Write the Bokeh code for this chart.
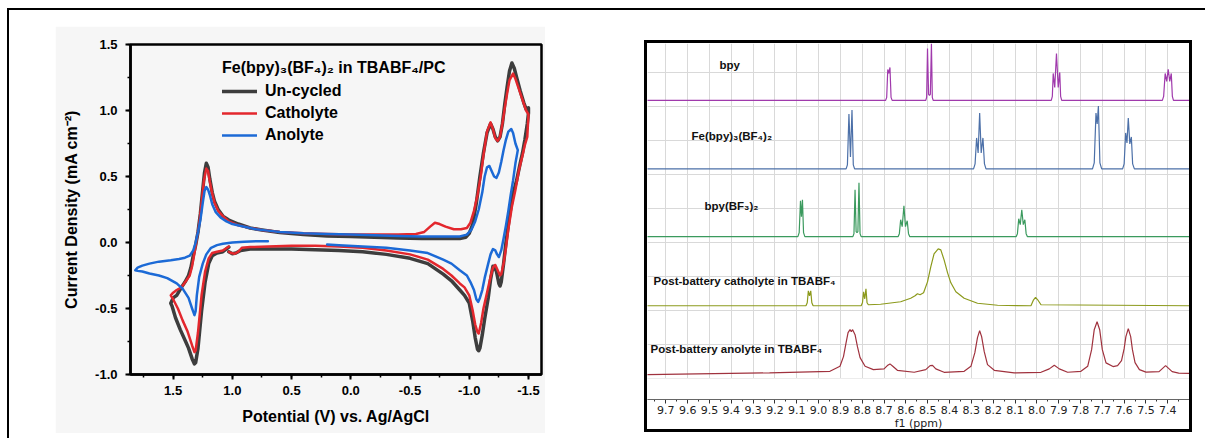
from bokeh.plotting import figure
from bokeh.models import (Range1d, SingleIntervalTicker, FixedTicker, NumeralTickFormatter,
                          Legend, LegendItem, BoxAnnotation, Div)
from bokeh.core.properties import value
from bokeh.embed import file_html
from bokeh.resources import INLINE

# ---------------- CV data (E in V vs Ag/AgCl, j in mA cm^-2) ----------------
series_names = ["Un-cycled", "Catholyte", "Anolyte"]

uncycled_E = [1.03, 1.08, 1.13, 1.17, 1.20, 1.23, 1.26, 1.29, 1.31, 1.32, 1.34, 1.37, 1.39, 1.44, 1.48, 1.51, 1.52,
              1.50, 1.47, 1.43, 1.40, 1.37, 1.35, 1.33, 1.31, 1.29, 1.27, 1.25, 1.235, 1.22, 1.205, 1.19, 1.17, 1.15,
              1.12, 1.08, 1.03, 0.95, 0.85, 0.75, 0.6, 0.4, 0.2, 0.0, -0.2, -0.4, -0.6, -0.8, -0.92, -0.97, -1.0,
              -1.03, -1.06, -1.09, -1.12, -1.15, -1.18, -1.20, -1.22, -1.24, -1.26, -1.28, -1.30, -1.32, -1.34, -1.36,
              -1.38, -1.40, -1.43, -1.46, -1.48, -1.50,
              -1.50, -1.49, -1.47, -1.45, -1.43, -1.40, -1.37, -1.34, -1.31, -1.29, -1.27, -1.26, -1.25, -1.23, -1.21,
              -1.20, -1.18, -1.16, -1.13, -1.11, -1.09, -1.08, -1.07, -1.05, -1.03, -1.00, -0.96, -0.92, -0.85, -0.78,
              -0.65, -0.5, -0.3, -0.1, 0.1, 0.3, 0.5, 0.7, 0.85, 0.93, 0.97, 1.0, 1.03]
uncycled_j = [-0.035, -0.07, -0.08, -0.10, -0.16, -0.30, -0.52, -0.80, -0.91, -0.92, -0.88, -0.80, -0.76, -0.66, -0.57,
              -0.48, -0.46,
              -0.42, -0.40, -0.34, -0.30, -0.25, -0.19, -0.10, -0.02, 0.08, 0.22, 0.40, 0.53, 0.60, 0.57, 0.48, 0.38,
              0.31, 0.25, 0.20, 0.17, 0.14, 0.11, 0.095, 0.075, 0.06, 0.05, 0.045, 0.04, 0.035, 0.03, 0.03, 0.03,
              0.04, 0.07, 0.14, 0.30, 0.50, 0.68, 0.83, 0.90, 0.86, 0.80, 0.77, 0.80, 0.90, 1.05, 1.18, 1.30, 1.36,
              1.32, 1.25, 1.15, 1.06, 1.01, 1.02,
              0.98, 0.90, 0.78, 0.68, 0.60, 0.47, 0.37, 0.20, 0.0, -0.16, -0.30, -0.33, -0.31, -0.22, -0.18, -0.18,
              -0.28, -0.42, -0.58, -0.70, -0.80, -0.82, -0.81, -0.72, -0.60, -0.46, -0.40, -0.36, -0.29, -0.24, -0.16,
              -0.12, -0.09, -0.07, -0.06, -0.055, -0.05, -0.05, -0.05, -0.06, -0.08, -0.085, -0.07]

catholyte_E = [1.03, 1.08, 1.13, 1.17, 1.20, 1.23, 1.26, 1.29, 1.31, 1.32, 1.34, 1.38, 1.42, 1.46, 1.50, 1.52,
               1.50, 1.47, 1.43, 1.39, 1.36, 1.34, 1.32, 1.30, 1.28, 1.26, 1.24, 1.22, 1.205, 1.19, 1.17, 1.15, 1.12,
               1.08, 1.03, 0.95, 0.85, 0.75, 0.6, 0.4, 0.2, 0.0, -0.2, -0.4, -0.55, -0.62, -0.67, -0.71, -0.75, -0.80,
               -0.87, -0.93, -0.98, -1.01, -1.04, -1.07, -1.10, -1.12, -1.15, -1.18, -1.20, -1.22, -1.24, -1.26, -1.28,
               -1.30, -1.32, -1.34, -1.37, -1.39, -1.42, -1.45, -1.48, -1.50,
               -1.49, -1.47, -1.45, -1.42, -1.39, -1.36, -1.33, -1.31, -1.29, -1.27, -1.26, -1.24, -1.22, -1.20,
               -1.18, -1.15, -1.12, -1.10, -1.08, -1.07, -1.05, -1.03, -1.00, -0.96, -0.92, -0.85, -0.78, -0.65,
               -0.5, -0.3, -0.1, 0.1, 0.3, 0.5, 0.7, 0.85, 0.92, 0.95, 0.98, 1.01, 1.03]
catholyte_j = [-0.03, -0.06, -0.07, -0.08, -0.12, -0.22, -0.40, -0.68, -0.82, -0.83, -0.78, -0.67, -0.59, -0.50,
               -0.43, -0.40,
               -0.38, -0.36, -0.34, -0.29, -0.25, -0.18, -0.08, 0.03, 0.14, 0.30, 0.47, 0.56, 0.54, 0.46, 0.37, 0.30,
               0.24, 0.20, 0.16, 0.13, 0.11, 0.095, 0.08, 0.07, 0.065, 0.06, 0.06, 0.06, 0.065, 0.08, 0.12, 0.15,
               0.14, 0.12, 0.10, 0.10, 0.11, 0.15, 0.24, 0.36, 0.52, 0.66, 0.84, 0.91, 0.86, 0.79, 0.77, 0.80, 0.90,
               1.02, 1.13, 1.23, 1.28, 1.24, 1.16, 1.08, 1.00, 0.97,
               0.80, 0.74, 0.66, 0.55, 0.40, 0.27, 0.10, -0.04, -0.16, -0.24, -0.25, -0.21, -0.17, -0.19, -0.26,
               -0.38, -0.50, -0.61, -0.69, -0.68, -0.62, -0.52, -0.40, -0.34, -0.31, -0.25, -0.20, -0.13, -0.09,
               -0.06, -0.04, -0.03, -0.025, -0.025, -0.03, -0.035, -0.04, -0.07, -0.085, -0.08, -0.07]

anolyte_E = [0.70, 0.80, 0.90, 1.00, 1.08, 1.13, 1.18, 1.22, 1.25, 1.28, 1.30, 1.31, 1.32, 1.34, 1.37, 1.42, 1.47,
             1.55, 1.62, 1.70, 1.76, 1.80, 1.82,
             1.80, 1.76, 1.70, 1.62, 1.52, 1.45, 1.40, 1.36, 1.33, 1.31, 1.29, 1.27, 1.25, 1.235, 1.22, 1.205, 1.19,
             1.17, 1.14, 1.10, 1.05, 1.0, 0.9, 0.8, 0.7, 0.6, 0.4, 0.2, 0.0, -0.2, -0.4, -0.6, -0.8, -0.92, -0.98,
             -1.02, -1.05, -1.08, -1.11, -1.13, -1.15, -1.17, -1.19, -1.21, -1.23, -1.25, -1.27, -1.29, -1.31, -1.33,
             -1.355, -1.37, -1.39, -1.41,
             -1.39, -1.37, -1.35, -1.33, -1.31, -1.29, -1.27, -1.25, -1.235, -1.22, -1.20, -1.18, -1.16, -1.13,
             -1.11, -1.09, -1.075, -1.06, -1.04, -1.01, -0.98, -0.92, -0.85, -0.78, -0.65, -0.5, -0.3, -0.1, 0.1,
             0.2]
anolyte_j = [0.01, 0.01, 0.005, 0.0, -0.01, -0.02, -0.04, -0.09, -0.16, -0.26, -0.40, -0.52, -0.55, -0.50, -0.42,
             -0.35, -0.31, -0.27, -0.25, -0.235, -0.22, -0.215, -0.21,
             -0.19, -0.175, -0.16, -0.145, -0.135, -0.125, -0.115, -0.10, -0.06, 0.0, 0.08, 0.17, 0.30, 0.39, 0.42,
             0.40, 0.36, 0.29, 0.23, 0.19, 0.16, 0.14, 0.12, 0.10, 0.09, 0.08, 0.07, 0.065, 0.06, 0.055, 0.05,
             0.045, 0.045, 0.045, 0.06, 0.10, 0.16, 0.25, 0.38, 0.50, 0.57, 0.58, 0.54, 0.50, 0.49, 0.53, 0.61, 0.70,
             0.78, 0.84, 0.86, 0.83, 0.75, 0.70,
             0.60, 0.47, 0.36, 0.24, 0.13, 0.03, -0.06, -0.11, -0.09, -0.06, -0.05, -0.09, -0.16, -0.27, -0.36,
             -0.42, -0.45, -0.43, -0.36, -0.30, -0.25, -0.21, -0.16, -0.13, -0.08, -0.06, -0.04, -0.03, -0.02,
             -0.015]

# ---------------- 1H NMR data (ppm, intensity in a.u.) ----------------
nmr_names = ["bpy", "Fe(bpy)₃(BF₄)₂", "bpy(BF₃)₂",
             "Post-battery catholyte in TBABF₄", "Post-battery anolyte in TBABF₄"]

bpy_ppm = [9.80, 8.693, 8.688, 8.683, 8.678, 8.673, 8.668, 8.663,
           8.509, 8.505, 8.501, 8.496, 8.492, 8.488, 8.483, 8.479, 8.475,
           7.934, 7.929, 7.925, 7.918, 7.910, 7.902, 7.895, 7.891, 7.886,
           7.425, 7.419, 7.412, 7.405, 7.398, 7.391, 7.384, 7.379, 7.374, 7.28]
bpy_int = [0, 0, 3, 31, 27, 33, 3, 0,
           0, 3, 52, 6, 5, 6, 57, 3, 0,
           0, 4, 27, 13, 47, 13, 28, 4, 0,
           0, 4, 27, 19, 31, 19, 27, 4, 0, 0]

fe_ppm = [9.80, 8.874, 8.868, 8.861, 8.854, 8.847, 8.841, 8.835,
          8.290, 8.283, 8.276, 8.269, 8.262, 8.255, 8.247, 8.240, 8.233,
          7.745, 7.737, 7.729, 7.7235, 7.718, 7.711, 7.703,
          7.607, 7.600, 7.593, 7.587, 7.581, 7.574, 7.567, 7.561, 7.553, 7.28]
fe_int = [0, 0, 4, 55, 12, 59, 4, 0,
          0, 5, 31, 16, 56, 16, 31, 5, 0,
          0, 6, 56, 45, 63, 6, 0,
          0, 5, 36, 26, 51, 25, 32, 5, 0, 0]

bf3_ppm = [9.80, 9.095, 9.089, 9.083, 9.0785, 9.074, 9.069, 9.063,
           8.843, 8.838, 8.833, 8.828, 8.824, 8.820, 8.815, 8.810, 8.805,
           8.636, 8.630, 8.624, 8.617, 8.609, 8.602, 8.594, 8.588, 8.582,
           8.095, 8.089, 8.083, 8.076, 8.069, 8.062, 8.055, 8.049, 8.043, 7.28]
bf3_int = [0, 0, 4, 36, 20, 37, 4, 0,
           0, 3, 47, 5, 4, 5, 54, 3, 0,
           0, 3, 17, 10, 31, 10, 16, 3, 0,
           0, 3, 18, 12, 27, 12, 17, 3, 0, 0]

cath_ppm = [9.80, 9.058, 9.052, 9.047, 9.0415, 9.036, 9.031, 9.025,
            8.805, 8.799, 8.794, 8.7885, 8.783, 8.778, 8.772, 8.716, 8.624, 8.578,
            8.558, 8.547, 8.535, 8.519, 8.501, 8.486, 8.471, 8.452, 8.440, 8.425, 8.409, 8.394, 8.371,
            8.333, 8.272, 8.180, 8.027, 8.015, 8.006, 7.996, 7.981, 7.28]
cath_int = [0, 0, 3, 15, 10, 15, 3, 0,
            0, 3, 14, 7, 17, 3, 1, 1.5, 4, 7.5,
            10, 12, 11, 13, 24, 39, 52, 57, 56, 46, 33, 23, 14,
            7.5, 2.5, 0.5, 0, 6, 8.5, 6, 1, 0]

ano_ppm = [9.80, 9.225, 8.948, 8.902, 8.886, 8.874, 8.865, 8.856, 8.850, 8.844, 8.833, 8.822, 8.810, 8.787, 8.749,
           8.700, 8.685, 8.673, 8.660, 8.639, 8.562, 8.509, 8.489, 8.478, 8.463, 8.425,
           8.333, 8.302, 8.284, 8.272, 8.262, 8.253, 8.241, 8.226, 8.195, 8.104,
           7.981, 7.943, 7.920, 7.897, 7.859, 7.798, 7.767, 7.749, 7.737, 7.724, 7.712, 7.700, 7.683,
           7.651, 7.630, 7.612, 7.600, 7.592, 7.581, 7.570, 7.562, 7.550, 7.530, 7.500,
           7.440, 7.425, 7.410, 7.395, 7.380, 7.350, 7.28]
ano_int = [0, 1.7, 3.3, 8.3, 18, 32, 42, 45, 43, 45, 40, 28, 17, 8.3, 5,
           5.7, 9, 10.7, 8.3, 4.3, 2.3, 5, 9, 9.3, 5.7, 2.3,
           3.3, 8.3, 22, 37, 44, 38, 23, 10, 4.3, 1.7,
           2.3, 5.7, 9.3, 5.7, 2.3, 3.3, 8.3, 25, 45, 53, 45, 25, 11.7,
           8, 9, 14, 26, 38, 46, 38, 25, 12, 5, 2.5,
           3, 6, 9, 6, 3, 1.5, 1]

nmr_tick_step = 0.1

# ---------------- styles / positions ----------------
FONT = "Liberation Sans"
cv_colors = ["#3d3d3d", "#e3272d", "#1c6ad6"]
cv_widths = [3.5, 2.5, 2.5]
nmr_colors = ["#a03aac", "#4c70a8", "#3b9a5e", "#8c9a1c", "#a0323e"]
nmr_offsets = [300, 231.3, 163.3, 94, 25]
nmr_label_pos = [(9.454, 335), (9.582, 264), (9.523, 194), (9.756, 119), (9.770, 51)]

# ---------------- CV figure ----------------
p1 = figure(width=490, height=407, output_backend="svg", toolbar_location=None, title_location=None,
            x_range=Range1d(1.86, -1.61), y_range=Range1d(-1.0, 1.5),
            min_border_left=75, min_border_right=4, min_border_top=18, min_border_bottom=59)
p1.border_fill_color = "#f6f6f6"
p1.background_fill_color = "#f6f6f6"
p1.outline_line_color = "black"
p1.outline_line_width = 2.5
p1.grid.visible = False

for ax in (p1.xaxis[0], p1.yaxis[0]):
    ax.ticker = SingleIntervalTicker(interval=0.5, num_minor_ticks=2)
    ax.formatter = NumeralTickFormatter(format="0.0")
    ax.axis_line_width = 2.5
    ax.major_tick_line_width = 2
    ax.minor_tick_line_width = 1.5
    ax.major_tick_out = 5
    ax.major_tick_in = 0
    ax.minor_tick_out = 3
    ax.minor_tick_in = 0
    ax.major_label_text_font = FONT
    ax.major_label_text_font_size = "13px"
    ax.major_label_text_font_style = "bold"
    ax.major_label_text_color = "black"
    ax.axis_label_text_font = FONT
    ax.axis_label_text_font_size = "16px"
    ax.axis_label_text_font_style = "bold"
    ax.axis_label_text_color = "black"

p1.xaxis[0].major_label_standoff = 6
p1.yaxis[0].major_label_standoff = 8
p1.xaxis[0].axis_label = "Potential (V) vs. Ag/AgCl"
p1.yaxis[0].axis_label = "Current Density (mA cm⁻²)"
p1.xaxis[0].axis_label_standoff = 10
p1.yaxis[0].axis_label_standoff = 12

cv_E = [uncycled_E, catholyte_E, anolyte_E]
cv_j = [uncycled_j, catholyte_j, anolyte_j]
renderers = []
for E, j, c, w in zip(cv_E, cv_j, cv_colors, cv_widths):
    renderers.append(p1.line(E, j, line_color=c, line_width=w, line_join="round", line_cap="round"))

legend = Legend(items=[LegendItem(label=n, renderers=[r]) for n, r in zip(series_names, renderers)],
                location=(92, 229))
legend.title = "Fe(bpy)₃(BF₄)₂ in TBABF₄/PC"
legend.title_text_font = FONT
legend.title_text_font_size = "16px"
legend.title_text_font_style = "bold"
legend.title_text_color = "black"
legend.title_standoff = 4
legend.label_text_font = FONT
legend.label_text_font_size = "16px"
legend.label_text_font_style = "bold"
legend.label_text_color = "black"
legend.glyph_width = 35
legend.glyph_height = 20
legend.label_height = 20
legend.label_standoff = 8
legend.spacing = 2
legend.padding = 0
legend.margin = 0
legend.border_line_alpha = 0
legend.background_fill_alpha = 0
p1.add_layout(legend)

# ---------------- NMR figure ----------------
p2 = figure(width=542, height=389, output_backend="svg", toolbar_location=None,
            title_location=None,
            x_range=Range1d(9.784, 7.3005), y_range=Range1d(0, 357),
            y_axis_location=None,
            min_border_left=0, min_border_right=0, min_border_top=0, min_border_bottom=32)
p2.outline_line_color = None
p2.background_fill_color = "white"
p2.border_fill_color = "white"

xa = p2.xaxis[0]
xa.ticker = SingleIntervalTicker(interval=nmr_tick_step, num_minor_ticks=2)
xa.formatter = NumeralTickFormatter(format="0.0")
xa.axis_label = "f1 (ppm)"
xa.axis_line_color = "#333333"
xa.major_tick_line_color = "#333333"
xa.minor_tick_line_color = "#333333"
xa.major_tick_out = 4
xa.major_tick_in = 0
xa.minor_tick_out = 2
xa.minor_tick_in = 0
xa.major_label_standoff = 2
xa.axis_label_standoff = 0
xa.major_label_text_font = "DejaVu Sans"
xa.major_label_text_font_size = "11px"
xa.major_label_text_color = "#222222"
xa.axis_label_text_font = "DejaVu Sans"
xa.axis_label_text_font_size = "11px"
xa.axis_label_text_font_style = "normal"
xa.axis_label_text_color = "#222222"

p2.xgrid.grid_line_color = "#d9d9d9"
p2.ygrid.grid_line_color = "#d9d9d9"
p2.ygrid.ticker = FixedTicker(ticks=[21.5, 55.6, 89.7, 123.8, 157.9, 192.0, 226.1, 260.2, 294.3, 328.4])

p2.add_layout(BoxAnnotation(top=21, fill_color="white", fill_alpha=1.0, line_alpha=0))

nmr_ppm = [bpy_ppm, fe_ppm, bf3_ppm, cath_ppm, ano_ppm]
nmr_int = [bpy_int, fe_int, bf3_int, cath_int, ano_int]
for ppm, inten, off, c in zip(nmr_ppm, nmr_int, nmr_offsets, nmr_colors):
    p2.line(ppm, [off + v for v in inten], line_color=c, line_width=1.2)

p2.text(x=[p[0] for p in nmr_label_pos], y=[p[1] for p in nmr_label_pos], text=nmr_names,
        text_font=value(FONT), text_font_style="bold", text_font_size="11.5px",
        text_align="left", text_baseline="middle", text_color="#111111")

# ---------------- page placement ----------------
frame_div = Div(text="", width=1198, height=430, margin=0,
                styles={"position": "absolute", "left": "7px", "top": "8px",
                        "border-left": "2px solid black", "border-top": "2px solid black"})
p1.styles = {"position": "absolute", "left": "55px", "top": "26px"}
p2.styles = {"position": "absolute", "left": "647px", "top": "43px"}
nmr_box = Div(text="", width=548, height=392, margin=0,
              styles={"position": "absolute", "left": "644px", "top": "40px",
                      "border": "3px solid black", "box-sizing": "border-box",
                      "pointer-events": "none", "background": "transparent"})

open("out.html", "w").write(file_html([frame_div, p1, p2, nmr_box], INLINE))
